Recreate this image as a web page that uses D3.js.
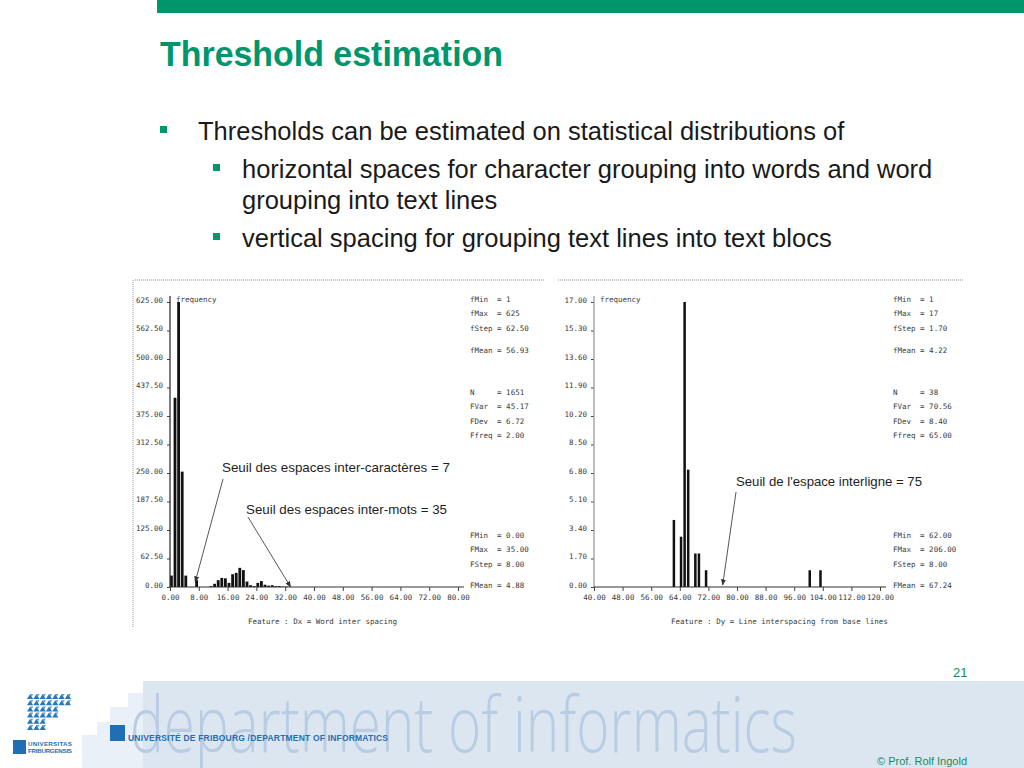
<!DOCTYPE html>
<html>
<head>
<meta charset="utf-8">
<script src="https://cdn.jsdelivr.net/npm/d3@7"></script>
<style>
  body { margin: 0; background: #fff; }
  svg { display: block; }
</style>
</head>
<body>
<script>
// slide + two histograms (word spacing, line spacing)

var width = 1024;
var height = 768;
var green = "#00966c";
var mono = "'DejaVu Sans Mono', monospace";
var sans = "'Liberation Sans', Arial, sans-serif";

// left histogram : Dx = word inter spacing
var dxValues = [0, 1, 2, 3, 4, 7, 11, 12, 13, 14, 15, 16, 17, 18, 19, 20, 21, 22, 23, 24, 25, 26, 27, 28, 29, 30, 31, 32];
var dxFreq   = [25, 415, 625, 253, 25, 15, 2, 7, 15, 20, 19, 9, 28, 31, 42, 37, 12, 4, 2, 9, 13, 5, 3, 4, 2, 2, 1, 1];
var dxTicks  = [0, 8, 16, 24, 32, 40, 48, 56, 64, 72, 80];
var dxFreqTicks = [0, 62.5, 125, 187.5, 250, 312.5, 375, 437.5, 500, 562.5, 625];
var dxStatsTop = ["fMin  = 1", "fMax  = 625", "fStep = 62.50", "fMean = 56.93",
                  "N     = 1651", "FVar  = 45.17", "FDev  = 6.72", "Ffreq = 2.00"];
var dxStatsBottom = ["FMin  = 0.00", "FMax  = 35.00", "FStep = 8.00", "FMean = 4.88"];

// right histogram : Dy = line interspacing from base lines
var dyValues = [62, 64, 65, 66, 68, 69, 71, 100, 103];
var dyFreq   = [4, 3, 17, 7, 2, 2, 1, 1, 1];
var dyTicks  = [40, 48, 56, 64, 72, 80, 88, 96, 104, 112, 120];
var dyFreqTicks = [0, 1.7, 3.4, 5.1, 6.8, 8.5, 10.2, 11.9, 13.6, 15.3, 17];
var dyStatsTop = ["fMin  = 1", "fMax  = 17", "fStep = 1.70", "fMean = 4.22",
                  "N     = 38", "FVar  = 70.56", "FDev  = 8.40", "Ffreq = 65.00"];
var dyStatsBottom = ["FMin  = 62.00", "FMax  = 206.00", "FStep = 8.00", "FMean = 67.24"];

var bullets = [
  { level: 0, text: "Thresholds can be estimated on statistical distributions of" },
  { level: 1, text: "horizontal spaces for character grouping into words and word" },
  { level: 2, text: "grouping into text lines" },
  { level: 1, text: "vertical spacing for grouping text lines into text blocs" }
];

var svg = d3.select("body")
  .append("svg")
    .attr("width", width)
    .attr("height", height);

// ---- header
svg.append("rect")
  .attr("x", 157).attr("y", 0)
  .attr("width", width - 157).attr("height", 13)
  .attr("fill", green);

svg.append("text")
  .attr("x", 160).attr("y", 66)
  .attr("font-family", sans)
  .attr("font-weight", "bold")
  .attr("font-size", 35)
  .attr("textLength", 343)
  .attr("lengthAdjust", "spacingAndGlyphs")
  .attr("fill", green)
  .text("Threshold estimation");

// ---- bullets
var bulletY = [140, 178, 209, 247];
bullets.forEach(function(b, i) {
  var tx = b.level === 0 ? 198 : 242;
  if (b.level < 2) {
    var bx = b.level === 0 ? 160 : 213;
    svg.append("rect")
      .attr("x", bx).attr("y", bulletY[i] - 14)
      .attr("width", 7).attr("height", 7)
      .attr("fill", green);
  }
  svg.append("text")
    .attr("x", tx).attr("y", bulletY[i])
    .attr("font-family", sans)
    .attr("font-size", 25.5)
    .attr("fill", "#1a1a1a")
    .text(b.text);
});

// ---- histogram drawing
var drawHist = function(cfg) {
  var g = svg.append("g");
  var x = d3.scaleLinear().domain(cfg.xDomain).range(cfg.xRange);
  var y = d3.scaleLinear().domain(cfg.yDomain).range([587, 302]);
  var x0 = x(cfg.xDomain[0]);

  // scanned frame, dotted
  g.append("line")
    .attr("x1", cfg.frame[0]).attr("x2", cfg.frame[1])
    .attr("y1", 280).attr("y2", 280)
    .attr("stroke", "#8a8a8a").attr("stroke-width", 1.2)
    .attr("stroke-dasharray", "1,1");
  if (cfg.leftBorder) {
    g.append("line")
      .attr("x1", cfg.frame[0] - 2).attr("x2", cfg.frame[0] - 2)
      .attr("y1", 280).attr("y2", 628)
      .attr("stroke", "#9a9a9a").attr("stroke-width", 1)
      .attr("stroke-dasharray", "1,1");
  }

  // bars
  g.selectAll(".bar")
    .data(d3.zip(cfg.values, cfg.freq))
    .enter()
    .append("rect")
      .classed("bar", true)
      .attr("x", function(d) { return x(d[0]); })
      .attr("y", function(d) { return y(d[1]); })
      .attr("width", cfg.barWidth)
      .attr("height", function(d) { return y(0) - y(d[1]); })
      .attr("fill", "#111");

  // axes
  var xAxis = d3.axisBottom(x)
    .tickValues(cfg.xTicks)
    .tickFormat(d3.format(".2f"))
    .tickSize(4)
    .tickPadding(4);
  var gx = g.append("g")
    .attr("transform", "translate(0,587)")
    .call(xAxis);

  var yAxis = d3.axisLeft(y)
    .tickValues(cfg.yTicks)
    .tickFormat(d3.format(".2f"))
    .tickSize(3)
    .tickPadding(4);
  var gy = g.append("g")
    .attr("transform", "translate(" + x0 + ",0)")
    .call(yAxis);

  [gx, gy].forEach(function(a) {
    a.select(".domain").remove();
    a.attr("font-family", mono).attr("font-size", 7.5);
    a.selectAll("text").attr("fill", "#3a3a3a");
    a.selectAll("line").attr("stroke", "#444");
  });
  gy.selectAll("text").attr("dy", "0.05em");

  g.append("line")
    .attr("x1", x0).attr("x2", x0)
    .attr("y1", 296).attr("y2", 587)
    .attr("stroke", cfg.axisColor).attr("stroke-width", 1.3);
  g.append("line")
    .attr("x1", x0).attr("x2", cfg.xRange[1] + 6)
    .attr("y1", 587).attr("y2", 587)
    .attr("stroke", "#333").attr("stroke-width", 1);

  g.append("text")
    .attr("x", x0 + 6).attr("y", 302)
    .attr("font-family", mono).attr("font-size", 7.5)
    .attr("fill", "#3a3a3a")
    .text("frequency");

  // stats at right
  var topRows = [299, 313.5, 328, 350, 392, 406.5, 421, 435.5];
  var bottomRows = [535, 549.5, 564, 585];
  var stats = cfg.statsTop.map(function(s, i) { return { s: s, y: topRows[i] }; })
    .concat(cfg.statsBottom.map(function(s, i) { return { s: s, y: bottomRows[i] }; }));
  g.selectAll(".stat")
    .data(stats)
    .enter()
    .append("text")
      .classed("stat", true)
      .attr("x", cfg.statsX)
      .attr("y", function(d) { return d.y + 2.5; })
      .attr("font-family", mono).attr("font-size", 7.5)
      .attr("fill", "#3a3a3a")
      .style("white-space", "pre")
      .text(function(d) { return d.s; });

  g.append("text")
    .attr("x", cfg.featureX).attr("y", 623.5)
    .attr("font-family", mono).attr("font-size", 7.5)
    .attr("fill", "#3a3a3a")
    .style("white-space", "pre")
    .text(cfg.feature);

  // threshold annotations
  cfg.notes.forEach(function(n) {
    g.append("text")
      .attr("x", n.tx).attr("y", n.ty)
      .attr("font-family", sans).attr("font-size", 13)
      .attr("textLength", n.len)
      .attr("lengthAdjust", "spacingAndGlyphs")
      .attr("fill", "#1e1e1e")
      .text(n.text);
    g.append("line")
      .attr("x1", n.from[0]).attr("y1", n.from[1])
      .attr("x2", x(n.value)).attr("y2", n.tipY)
      .attr("stroke", "#444").attr("stroke-width", 0.9)
      .attr("marker-end", "url(#arrow)");
  });
};

svg.append("defs").append("marker")
  .attr("id", "arrow")
  .attr("viewBox", "0 0 10 10")
  .attr("refX", 9).attr("refY", 5)
  .attr("markerWidth", 7).attr("markerHeight", 7)
  .attr("orient", "auto")
  .append("path")
    .attr("d", "M0,1 L10,5 L0,9 z")
    .attr("fill", "#333");

drawHist({
  values: dxValues, freq: dxFreq,
  xDomain: [0, 80], xRange: [170, 458],
  yDomain: [0, 625],
  xTicks: dxTicks, yTicks: dxFreqTicks,
  barWidth: 2.8,
  axisColor: "#333",
  frame: [135, 545], leftBorder: true,
  statsX: 470, statsTop: dxStatsTop, statsBottom: dxStatsBottom,
  featureX: 248, feature: "Feature : Dx = Word inter spacing",
  notes: [
    { text: "Seuil des espaces inter-caractères = 7", tx: 222, ty: 472, len: 228,
      from: [223, 479], value: 7, tipY: 582 },
    { text: "Seuil des espaces inter-mots = 35", tx: 246, ty: 514, len: 201,
      from: [248, 517], value: 33.5, tipY: 587 }
  ]
});

drawHist({
  values: dyValues, freq: dyFreq,
  xDomain: [40, 120], xRange: [594, 880],
  yDomain: [0, 17],
  xTicks: dyTicks, yTicks: dyFreqTicks,
  barWidth: 2.5,
  axisColor: "#9a9a9a",
  frame: [558, 963], leftBorder: false,
  statsX: 893, statsTop: dyStatsTop, statsBottom: dyStatsBottom,
  featureX: 671, feature: "Feature : Dy = Line interspacing from base lines",
  notes: [
    { text: "Seuil de l'espace interligne = 75", tx: 736, ty: 486, len: 186,
      from: [736, 492], value: 76, tipY: 585 }
  ]
});

// ---- footer
var foot = svg.append("g");
var steps = [[143, 681], [128, 693], [110, 707], [97, 722], [82, 735]];
steps.slice().reverse().forEach(function(s, i) {
  foot.append("rect")
    .attr("x", s[0]).attr("y", s[1])
    .attr("width", width - s[0]).attr("height", height - s[1])
    .attr("fill", i === steps.length - 1 ? "#dce6f1" : "#eaf0f7");
});

// big light lettering, squeezed horizontally to its place
var dept = foot.append("text")
  .attr("x", 0).attr("y", 0)
  .attr("font-family", "'Open Sans', sans-serif")
  .attr("font-weight", 300)
  .attr("font-size", 78)
  .attr("fill", "#b8cce3")
  .text("department of informatics");
var deptW = dept.node().getComputedTextLength();
dept.attr("transform", "translate(130,752) scale(" + (667 / deptW) + ",1)");

foot.append("rect")
  .attr("x", 110).attr("y", 725)
  .attr("width", 15).attr("height", 16)
  .attr("fill", "#1f6fb2");
foot.append("text")
  .attr("x", 128).attr("y", 741)
  .attr("font-family", sans)
  .attr("font-weight", "bold")
  .attr("font-size", 8.5)
  .attr("textLength", 260)
  .attr("lengthAdjust", "spacing")
  .attr("fill", "#1f6fb2")
  .text("UNIVERSITÉ DE FRIBOURG /DEPARTMENT OF INFORMATICS");

// logo: rows of triangles
var logoRows = [7, 7, 5, 5, 3, 3];
logoRows.forEach(function(n, r) {
  var yTop = 694 + r * 6.2;
  for (var i = 0; i < n; i++) {
    var xl = 27 + i * 6.3;
    foot.append("path")
      .attr("d", "M" + xl + "," + (yTop + 5) + " L" + (xl + 3.1) + "," + yTop + " L" + (xl + 6.2) + "," + (yTop + 5) + " z")
      .attr("fill", "#2a78b8");
    foot.append("path")
      .attr("d", "M" + (xl + 3.2) + "," + yTop + " L" + (xl + 6.2) + "," + yTop + " L" + (xl + 4.7) + "," + (yTop + 2.5) + " z")
      .attr("fill", "#5d9bcf");
  }
});
foot.append("rect")
  .attr("x", 13).attr("y", 740)
  .attr("width", 13).attr("height", 14)
  .attr("fill", "#1f6fb2");
foot.append("text")
  .attr("x", 28).attr("y", 746)
  .attr("font-family", sans).attr("font-weight", "bold")
  .attr("font-size", 6.2).attr("fill", "#1f6fb2")
  .attr("textLength", 44)
  .text("UNIVERSITAS");
foot.append("text")
  .attr("x", 28).attr("y", 753)
  .attr("font-family", sans).attr("font-weight", "bold")
  .attr("font-size", 6.2).attr("fill", "#1f6fb2")
  .attr("textLength", 44)
  .text("FRIBURGENSIS");

svg.append("text")
  .attr("x", 953).attr("y", 677)
  .attr("font-family", sans).attr("font-size", 13)
  .attr("fill", "#1a8a60")
  .text("21");

svg.append("text")
  .attr("x", 877).attr("y", 765)
  .attr("font-family", sans).attr("font-size", 11)
  .attr("fill", "#1a8a60")
  .text("© Prof. Rolf Ingold");
</script>
</body>
</html>
